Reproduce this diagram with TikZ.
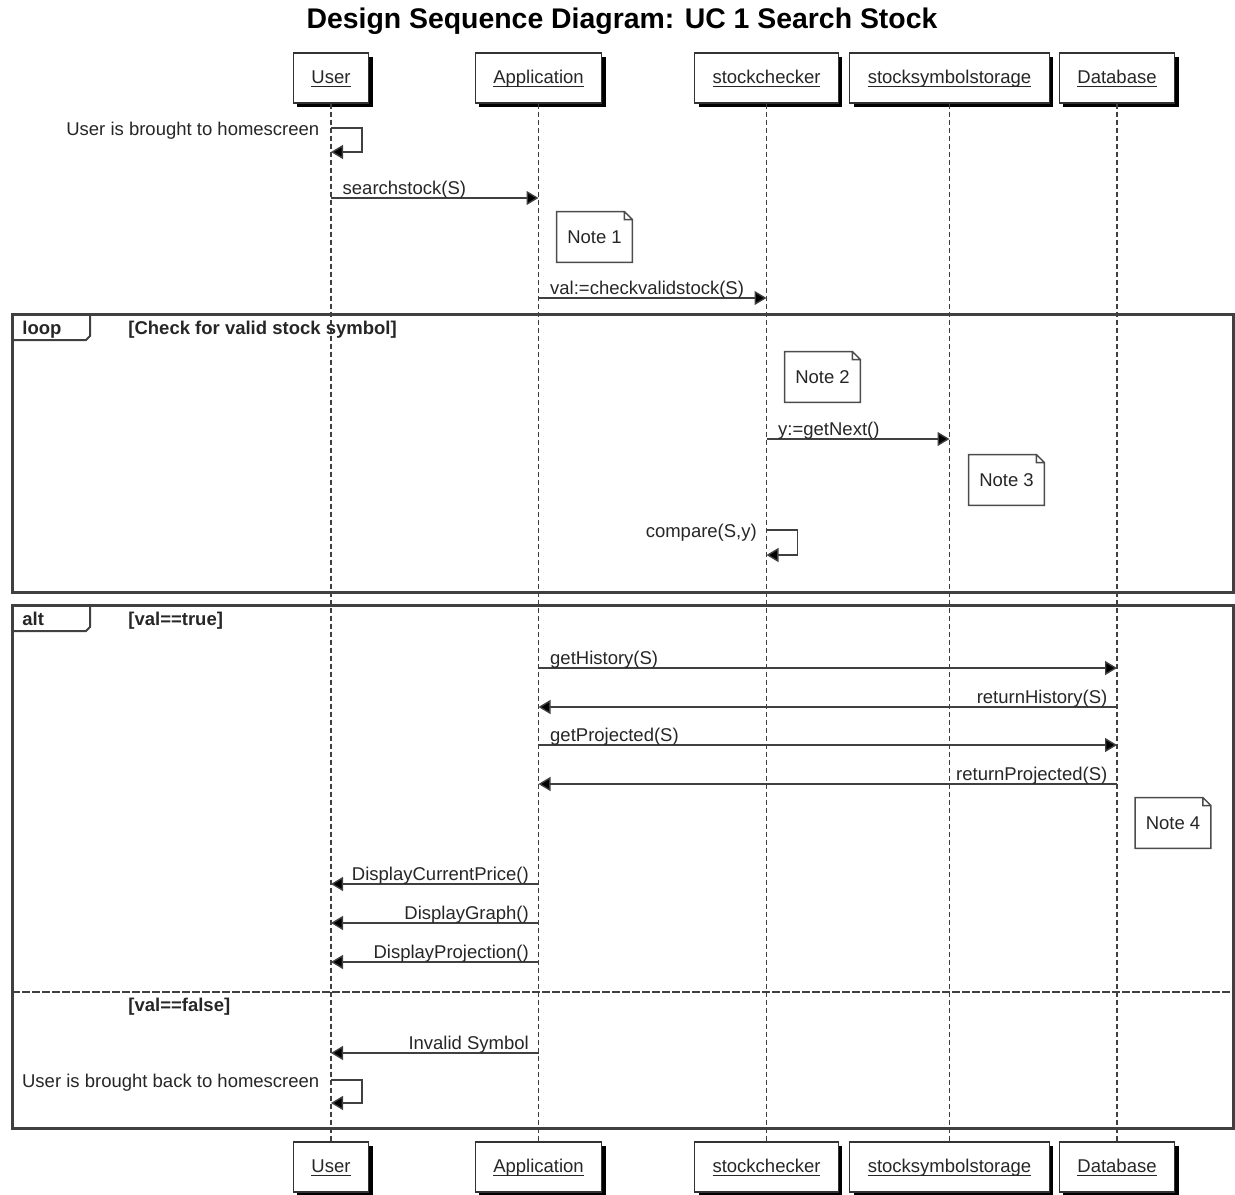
\documentclass[tikz,border=0pt]{standalone}
\usepackage{fontspec}
\setmainfont{Liberation Sans}
\usetikzlibrary{arrows.meta,shadows}

\newcommand{\uname}[1]{\underline{\smash{#1}\vphantom{A}}}

\begin{document}
\begin{tikzpicture}[x=0.5pt,y=-0.5pt,
	font=\fontsize{9.25}{11}\selectfont, text=black!85,
	head/.style={draw=black!80, fill=white, line width=0.6pt, inner xsep=9pt, minimum height=25pt,
		text height=1.6ex, text depth=0.5ex,
		drop shadow={shadow xshift=2pt,shadow yshift=-2pt,fill=black,opacity=1}},
	life/.style={draw=black!75, line width=0.7pt, dash pattern=on 2.5pt off 1.5pt},
	msg/.style={draw=black!75, line width=0.7pt, -{Triangle[length=6pt,width=7pt,fill=black]}},
	fwd/.style={anchor=base west, inner sep=0pt, xshift=5.5pt, yshift=2pt},
	back/.style={anchor=base east, inner sep=0pt, xshift=-4.5pt, yshift=2pt},
	self/.style={anchor=base east, inner sep=0pt, xshift=-5.5pt, yshift=-3.8pt},
	note/.style={minimum width=37.5pt, minimum height=25pt, inner sep=0pt},
	notebox/.style={draw=black!70, line width=0.7pt},
	frame/.style={draw=black!75, line width=1.5pt},
	tab/.style={draw=black!75, line width=1pt},
	guard/.style={font=\fontsize{9.25}{11}\selectfont\bfseries, anchor=base west, inner sep=0pt}]

	\useasboundingbox (0,0) rectangle (1235,1194);

	\node[font=\fontsize{14.2}{16}\selectfont\bfseries, text=black] (title) at (622,21)
		{Design Sequence Diagram: UC 1 Search Stock};

	% lifeline heads, top and bottom
	\node[head] (user)    at (331,78)   {\uname{User}};
	\node[head] (app)     at (538.5,78) {\uname{Application}};
	\node[head] (checker) at (766.5,78) {\uname{stockchecker}};
	\node[head] (storage) at (949.5,78) {\uname{stocksymbolstorage}};
	\node[head] (db)      at (1117,78)  {\uname{Database}};

	\coordinate (bot) at (0,1167);
	\node[head] (user-bot)    at (user |- bot)    {\uname{User}};
	\node[head] (app-bot)     at (app |- bot)     {\uname{Application}};
	\node[head] (checker-bot) at (checker |- bot) {\uname{stockchecker}};
	\node[head] (storage-bot) at (storage |- bot) {\uname{stocksymbolstorage}};
	\node[head] (db-bot)      at (db |- bot)      {\uname{Database}};

	\foreach \p in {user,app,checker,storage,db}
		\draw[life] (\p.south) -- (\p-bot.north);

	% combined fragments
	\draw[frame] (12,314) rectangle (1233,592);
	\draw[tab] (12,340) -- (86,340) -- (90,336) -- (90,314);
	\node[guard] (loop) at (22,334) {loop};
	\node[guard] (g1) at (128,334) {[Check for valid stock symbol]};

	\draw[frame] (12,605) rectangle (1233,1128);
	\draw[tab] (12,631) -- (86,631) -- (90,627) -- (90,605);
	\node[guard] (alt) at (22,625) {alt};
	\node[guard] (g2) at (128,625) {[val==true]};
	\draw[frame, line width=1.2pt, dash pattern=on 4pt off 1pt] (12,992) -- (1233,992);
	\node[guard] (g3) at (128,1011) {[val==false]};

	% notes
	\node[note] (n1) at (594.5,237) {Note 1};
	\node[note] (n2) at (822.5,377) {Note 2};
	\node[note] (n3) at (1006.5,480) {Note 3};
	\node[note] (n4) at (1173,823) {Note 4};
	\foreach \n in {n1,n2,n3,n4}
		\draw[notebox] (\n.north west) -- ([xshift=-4pt]\n.north east) -- ([yshift=-4pt]\n.north east)
			-- (\n.south east) -- (\n.south west) -- cycle
			([xshift=-4pt]\n.north east) |- ([yshift=-4pt]\n.north east);

	% messages
	\coordinate (s1) at (0,128);  \coordinate (s1e) at (0,152);
	\coordinate (m1) at (0,198);
	\coordinate (m2) at (0,298);
	\coordinate (m3) at (0,439);
	\coordinate (s2) at (0,530);  \coordinate (s2e) at (0,555);
	\coordinate (m4) at (0,668);
	\coordinate (m5) at (0,707);
	\coordinate (m6) at (0,745);
	\coordinate (m7) at (0,784);
	\coordinate (m8) at (0,884);
	\coordinate (m9) at (0,923);
	\coordinate (m10) at (0,962);
	\coordinate (m11) at (0,1053);
	\coordinate (s3) at (0,1080); \coordinate (s3e) at (0,1103);

	\draw[msg] (user |- s1) node[self] {User is brought to homescreen} -- ++(31,0) |- (user |- s1e);
	\draw[msg] (user |- m1) node[fwd] {searchstock(S)} -- (app |- m1);
	\draw[msg] (app |- m2) node[fwd] {val:=checkvalidstock(S)} -- (checker |- m2);
	\draw[msg] (checker |- m3) node[fwd] {y:=getNext()} -- (storage |- m3);
	\draw[msg] (checker |- s2) node[self, xshift=1pt] {compare(S,y)} -- ++(31,0) |- (checker |- s2e);
	\draw[msg] (app |- m4) node[fwd] {getHistory(S)} -- (db |- m4);
	\draw[msg] (db |- m5) node[back] {returnHistory(S)} -- (app |- m5);
	\draw[msg] (app |- m6) node[fwd] {getProjected(S)} -- (db |- m6);
	\draw[msg] (db |- m7) node[back] {returnProjected(S)} -- (app |- m7);
	\draw[msg] (app |- m8) node[back] {DisplayCurrentPrice()} -- (user |- m8);
	\draw[msg] (app |- m9) node[back] {DisplayGraph()} -- (user |- m9);
	\draw[msg] (app |- m10) node[back] {DisplayProjection()} -- (user |- m10);
	\draw[msg] (app |- m11) node[back] {Invalid Symbol} -- (user |- m11);
	\draw[msg] (user |- s3) node[self] {User is brought back to homescreen} -- ++(31,0) |- (user |- s3e);
\end{tikzpicture}
\end{document}
